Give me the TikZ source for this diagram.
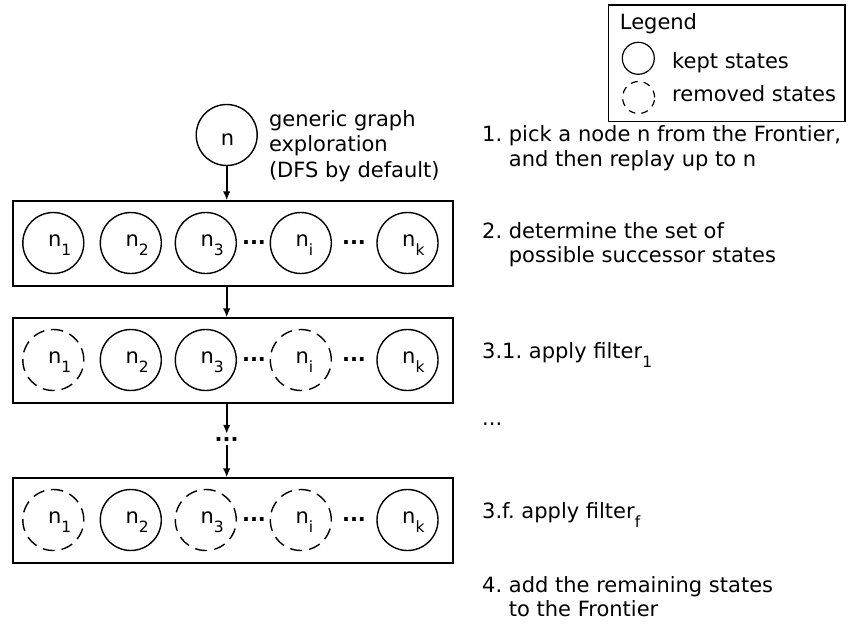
\documentclass[tikz,border=0pt]{standalone}
\usepackage{fontspec}
\setmainfont{DejaVu Sans}
\usetikzlibrary{arrows.meta}
% lowered, smaller index for state names and filters
\newcommand\subs[1]{\raisebox{-9pt}{\fontsize{15.5}{15.5}\selectfont #1}}
\frenchspacing
\begin{document}
\begin{tikzpicture}[x=1pt,y=-1pt,
  every node/.style={font=\fontsize{21}{25}\selectfont},
  state/.style={circle,draw,line width=1.4pt,minimum size=61pt,inner sep=0pt},
  gone/.style={state,dash pattern=on 12pt off 7pt},
  keyst/.style={circle,draw,line width=1.2pt,minimum size=32pt,inner sep=0pt},
  keygone/.style={keyst,dash pattern=on 7pt off 6pt},
  stage/.style={draw,line width=1.8pt,minimum width=440pt,minimum height=84.5pt,inner sep=0pt},
  txt/.style={anchor=base west,inner sep=0pt},
  lbl/.style={anchor=base west,inner sep=0pt},
  dots/.style={anchor=base,inner sep=0pt},
  gap/.style={dots,font=\fontsize{21}{25}\selectfont\bfseries},
  flow/.style={line width=1.8pt,-{Latex[length=9pt,width=7.5pt]}}]

\useasboundingbox (0,0) rectangle (850,626);

% the three stages of successor states
\node[stage] (row1) at (233.3,243.5) {};
\node[stage] (row2) at (233.3,360.5) {};
\node[stage] (row3) at (233.3,520.5) {};

\foreach \k/\x/\st in {1/53.3/state,2/130.8/state,3/205.8/state,i/300.8/state,k/407.5/state}{
  \node[\st] (a\k) at (\x,243) {};
  \node[lbl] (la\k) at (\x-5.5,246.5) {n\subs{\k}};
}
\node[gap] (a3i) at (254,244.5) {...};
\node[gap] (aik) at (354,244.5) {...};

\foreach \k/\x/\st in {1/53.3/gone,2/130.8/state,3/205.8/state,i/300.8/gone,k/407.5/state}{
  \node[\st] (b\k) at (\x,360) {};
  \node[lbl] (lb\k) at (\x-5.5,363.5) {n\subs{\k}};
}
\node[gap] (b3i) at (254,361.5) {...};
\node[gap] (bik) at (354,361.5) {...};

\foreach \k/\x/\st in {1/53.3/gone,2/130.8/state,3/205.8/gone,i/300.8/gone,k/407.5/state}{
  \node[\st] (c\k) at (\x,520) {};
  \node[lbl] (lc\k) at (\x-5.5,523.5) {n\subs{\k}};
}
\node[gap] (c3i) at (254,521.5) {...};
\node[gap] (cik) at (354,521.5) {...};

% the node picked from the frontier
\node[state] (n) at (226.7,135) {};
\node[dots] (nl) at (227.5,145) {n};

% flow between the stages
\draw[flow] (n.south) -- (n.south |- row1.north);
\draw[flow] (row1.south -| n) -- (row2.north -| n);
\node[gap,text height=3pt,text depth=0pt,inner ysep=4pt] (vd) at (226.7,441) {...};
\draw[flow] (row2.south -| n) -- (vd.north);
\draw[flow] (vd.south) -- (row3.north -| n);

% description next to the picked node
\node[txt] (g1) at (268.8,126.7) {generic graph};
\node[txt] (g2) at (268.8,151.7) {exploration};
\node[txt] (g3) at (268.8,177.3) {(DFS by default)};

% steps of the algorithm
\node[txt] (s1)  at (482,141.7) {1. pick a node n from the Frontier,};
\node[txt] (s1b) at (508.7,166.5) {and then replay up to n};
\node[txt] (s2)  at (482,238) {2. determine the set of};
\node[txt] (s2b) at (508.7,262.5) {possible successor states};
\node[txt] (s31) at (482,358.3) {3.1. apply filter\subs{1}};
\node[txt] (s3x) at (482,425) {...};
\node[txt] (s3f) at (482,518.3) {3.f. apply filter\subs{f}};
\node[txt] (s4)  at (482,592) {4. add the remaining states};
\node[txt] (s4b) at (508.7,616.5) {to the Frontier};

% legend
\node[draw,line width=1.6pt,minimum width=236.7pt,minimum height=116.7pt,inner sep=0pt] (legend) at (726.7,63.3) {};
\node[txt] (lt) at (619.7,30) {Legend};
\node[keyst] (kk) at (638.3,58.3) {};
\node[keygone] (kr) at (638.6,97.5) {};
\node[txt] (kkt) at (672,68.3) {kept states};
\node[txt] (krt) at (672,101.7) {removed states};
\end{tikzpicture}
\end{document}
